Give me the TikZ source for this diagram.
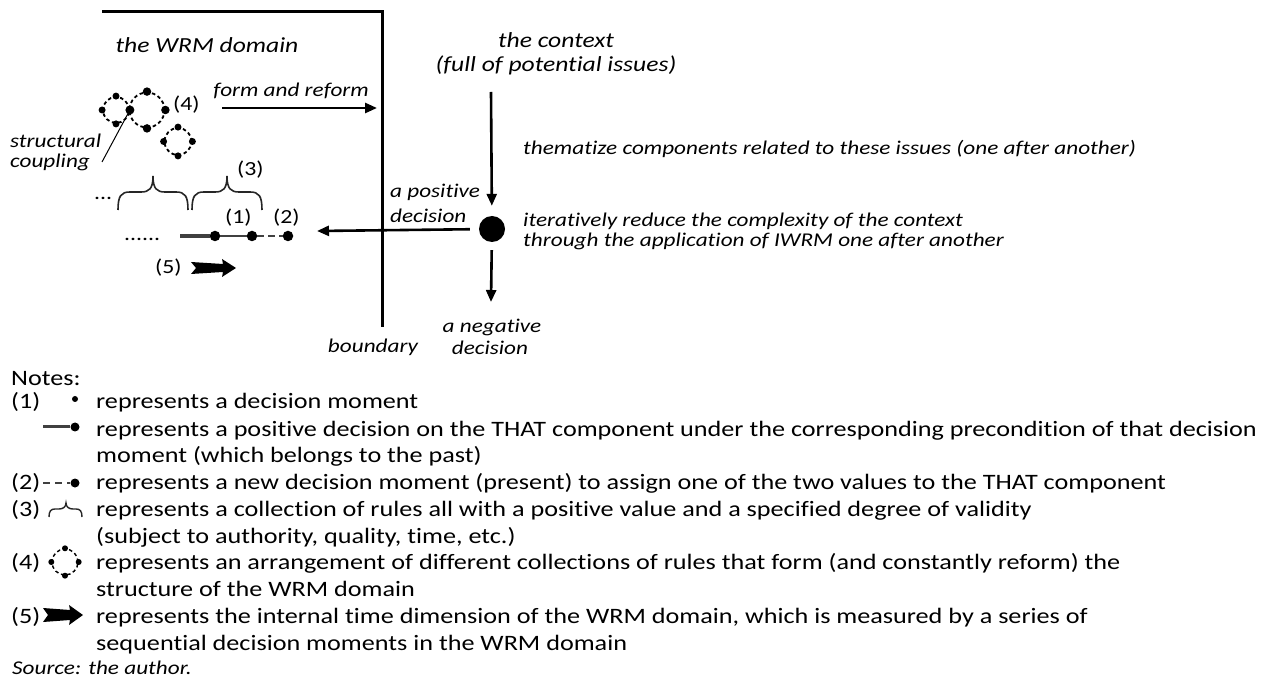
\documentclass[tikz,border=0pt]{standalone}
\usepackage{fontspec}
\setmainfont{Carlito}[FakeStretch=1.19, Ligatures=NoCommon]
\usetikzlibrary{arrows.meta}
\begin{document}
\begin{tikzpicture}[x=1pt,y=-1pt,
  lab/.style={font=\fontsize{19.5}{22}\selectfont\itshape, inner sep=0pt},
  ttl/.style={font=\fontsize{21.5}{25}\selectfont\itshape, inner sep=0pt},
  num/.style={font=\fontsize{20}{24}\selectfont, inner sep=0pt, anchor=base west},
  note/.style={font=\fontsize{22}{26.8}\selectfont, inner sep=0pt, anchor=base west},
  dotn/.style={circle, fill=black, draw=none, inner sep=0pt, minimum size=#1},
  arr/.style={line width=2.6pt, -{Triangle[length=12pt,width=10pt]}},
  circ/.style={circle, draw, inner sep=0pt, line width=1.8pt, dash pattern=on 3.5pt off 2.8pt, minimum size=#1},
  brc/.style={line width=1.6pt, black!85},
  dline/.style={line width=3.2pt, black!75},
  fat/.style={fill=black}]
\useasboundingbox (0,0) rectangle (1272,684);

% boundary frame
\coordinate (ftl) at (102,12);
\coordinate (fcor) at (382,12);
\coordinate (fbot) at (382,327);
\draw[line width=3pt, miter limit=2] (ftl) -- (fcor) -- (fbot);

% titles
\node[ttl, anchor=base] (wrm) at (207,53) {the WRM domain};
\node[ttl, anchor=base] (ctx1) at (556,48) {the context};
\node[ttl, anchor=base] (ctx2) at (556,72) {(full of potential issues)};

% form and reform
\node[lab, anchor=base east] (form) at (369,97) {form and reform};
\coordinate (fa) at (222,108);
\coordinate (fb) at (377,108);
\draw[arr] (fa) -- (fb);

% circles (4)
\node[circ=26pt] (c1) at (116,110) {};
\node[circ=35pt] (c2) at (147,110) {};
\node[circ=27pt] (c3) at (178,141.5) {};
\node[dotn=7pt] (c1n) at (c1.north) {};
\node[dotn=7pt] (c1w) at (c1.west) {};
\node[dotn=7pt] (c1s) at (c1.south) {};
\node[dotn=9pt] (sh) at (c1.east) {};
\node[dotn=8.5pt] (c2n) at (c2.north) {};
\node[dotn=8.5pt] (c2e) at (c2.east) {};
\node[dotn=8.5pt] (c2s) at (c2.south) {};
\node[dotn=7pt] (c3n) at (c3.north) {};
\node[dotn=7pt] (c3w) at (c3.west) {};
\node[dotn=7pt] (c3e) at (c3.east) {};
\node[dotn=7pt] (c3s) at (c3.south) {};
\node[num] (n4) at (173,111) {(4)};

% structural coupling
\coordinate (scend) at (102,162);
\draw[line width=1pt] (sh) -- (scend);
\node[lab, anchor=base west] (sc1) at (10,148) {structural};
\node[lab, anchor=base west] (sc2) at (10,168) {coupling};

% braces (3)
\node[num] (el1) at (94,200) {...};
\draw[brc] (118,210) .. controls (118,196) and (121,192) .. (130,192) -- (141,192)
  .. controls (149,192) and (153,189) .. (153,176)
  .. controls (153,189) and (157,192) .. (165,192) -- (176,192)
  .. controls (185,192) and (188,196) .. (188,210);
\draw[brc] (192,210) .. controls (192,196) and (195,192) .. (204,192) -- (215,192)
  .. controls (223,192) and (227,189) .. (227,176)
  .. controls (227,189) and (231,192) .. (239,192) -- (250,192)
  .. controls (259,192) and (262,196) .. (262,210);
\node[num] (n3) at (237,176) {(3)};

% decision line
\node[num] (el2) at (124,241) {......};
\coordinate (ls) at (180,236);
\node[dotn=10.5pt] (d1) at (215,236) {};
\node[dotn=10.5pt] (d2) at (252,236) {};
\node[dotn=10.5pt] (d3) at (288,236) {};
\draw[dline] (ls) -- (d1);
\draw[dline, line width=2.8pt] (d1) -- (d2);
\draw[dline, line width=2.8pt, dash pattern=on 7pt off 4pt] (d2) -- (d3);
\node[num] (n1) at (225,224) {(1)};
\node[num] (n2) at (273,224) {(2)};

% time arrow (5)
\node[num] (n5) at (155,274) {(5)};
\fill[fat] (191,262) -- (223,264) -- (222,259) -- (236,268) -- (222,277) -- (223,272) -- (191,274) -- (196,268) -- cycle;

% context side
\node[dotn=26pt] (big) at (492,229) {};
\coordinate (ca) at (491,92);
\draw[arr, shorten >=10pt] (ca) -- (big);
\coordinate (pa) at (317,231);
\draw[arr, shorten <=9pt] (big) -- (pa);
\coordinate (na) at (491,302);
\draw[arr, shorten <=8pt] (big) -- (na);
\node[lab, anchor=base west] (pos1) at (390,198) {a positive};
\node[lab, anchor=base west] (pos2) at (390,223) {decision};
\node[lab, anchor=base west] (them) at (523,155) {thematize components related to these issues (one after another)};
\node[lab, anchor=base west] (it1) at (523,227) {iteratively reduce the complexity of the context};
\node[lab, anchor=base west] (it2) at (523,247) {through the application of IWRM one after another};
\node[lab, anchor=base] (neg1) at (492,333) {a negative};
\node[lab, anchor=base] (neg2) at (490,355) {decision};
\node[lab, anchor=base] (bnd) at (373,353) {boundary};

% notes
\node[note] (notes) at (11,386) {Notes:};
\node[note] (k1) at (11,409) {(1)};
\node[dotn=6pt] (k1d) at (75,399) {};
\node[note] (t1) at (96,409) {represents a decision moment};
\coordinate (k1ls) at (43,427);
\node[dotn=9pt] (k1bd) at (75,427) {};
\draw[line width=3pt, black!75] (k1ls) -- (k1bd);
\node[note] (t2) at (96,436) {represents a positive decision on the THAT component under the corresponding precondition of that decision};
\node[note] (t3) at (96,463) {moment (which belongs to the past)};
\node[note] (k2) at (11,489) {(2)};
\coordinate (k2ls) at (43,483);
\node[dotn=9pt] (k2d) at (75,483) {};
\draw[line width=2.8pt, black!75, dash pattern=on 7pt off 5pt] (k2ls) -- (k2d);
\node[note] (t4) at (96,489) {represents a new decision moment (present) to assign one of the two values to the THAT component};
\node[note] (k3) at (11,516) {(3)};
\draw[brc, line width=1.4pt] (49,517) .. controls (49,511) and (51,509) .. (55,509) -- (59,509)
  .. controls (63,509) and (66,507) .. (66,503)
  .. controls (66,507) and (69,509) .. (73,509) -- (76,509)
  .. controls (80,509) and (82,511) .. (82,517);
\node[note] (t5) at (96,516) {represents a collection of rules all with a positive value and a specified degree of validity};
\node[note] (t6) at (96,543) {(subject to authority, quality, time, etc.)};
\node[note] (k4) at (11,569) {(4)};
\node[circ=26pt, line width=1.4pt] (kc) at (65,562) {};
\node[dotn=6pt] (kcn) at (kc.north) {};
\node[dotn=6pt] (kcw) at (kc.west) {};
\node[dotn=6pt] (kce) at (kc.east) {};
\node[dotn=6pt] (kcs) at (kc.south) {};
\node[note] (t7) at (96,569) {represents an arrangement of different collections of rules that form (and constantly reform) the};
\node[note] (t8) at (96,596) {structure of the WRM domain};
\node[note] (k5) at (11,623) {(5)};
\fill[fat] (43,608) -- (70,610) -- (69,605) -- (83,615) -- (69,625) -- (70,620) -- (43,622) -- (48,615) -- cycle;
\node[note] (t9) at (96,623) {represents the internal time dimension of the WRM domain, which is measured by a series of};
\node[note] (t10) at (96,650) {sequential decision moments in the WRM domain};
\node[lab, anchor=base west, font=\fontsize{19.5}{23}\selectfont\itshape] (src) at (12,674) {Source: the author.};
\end{tikzpicture}
\end{document}
